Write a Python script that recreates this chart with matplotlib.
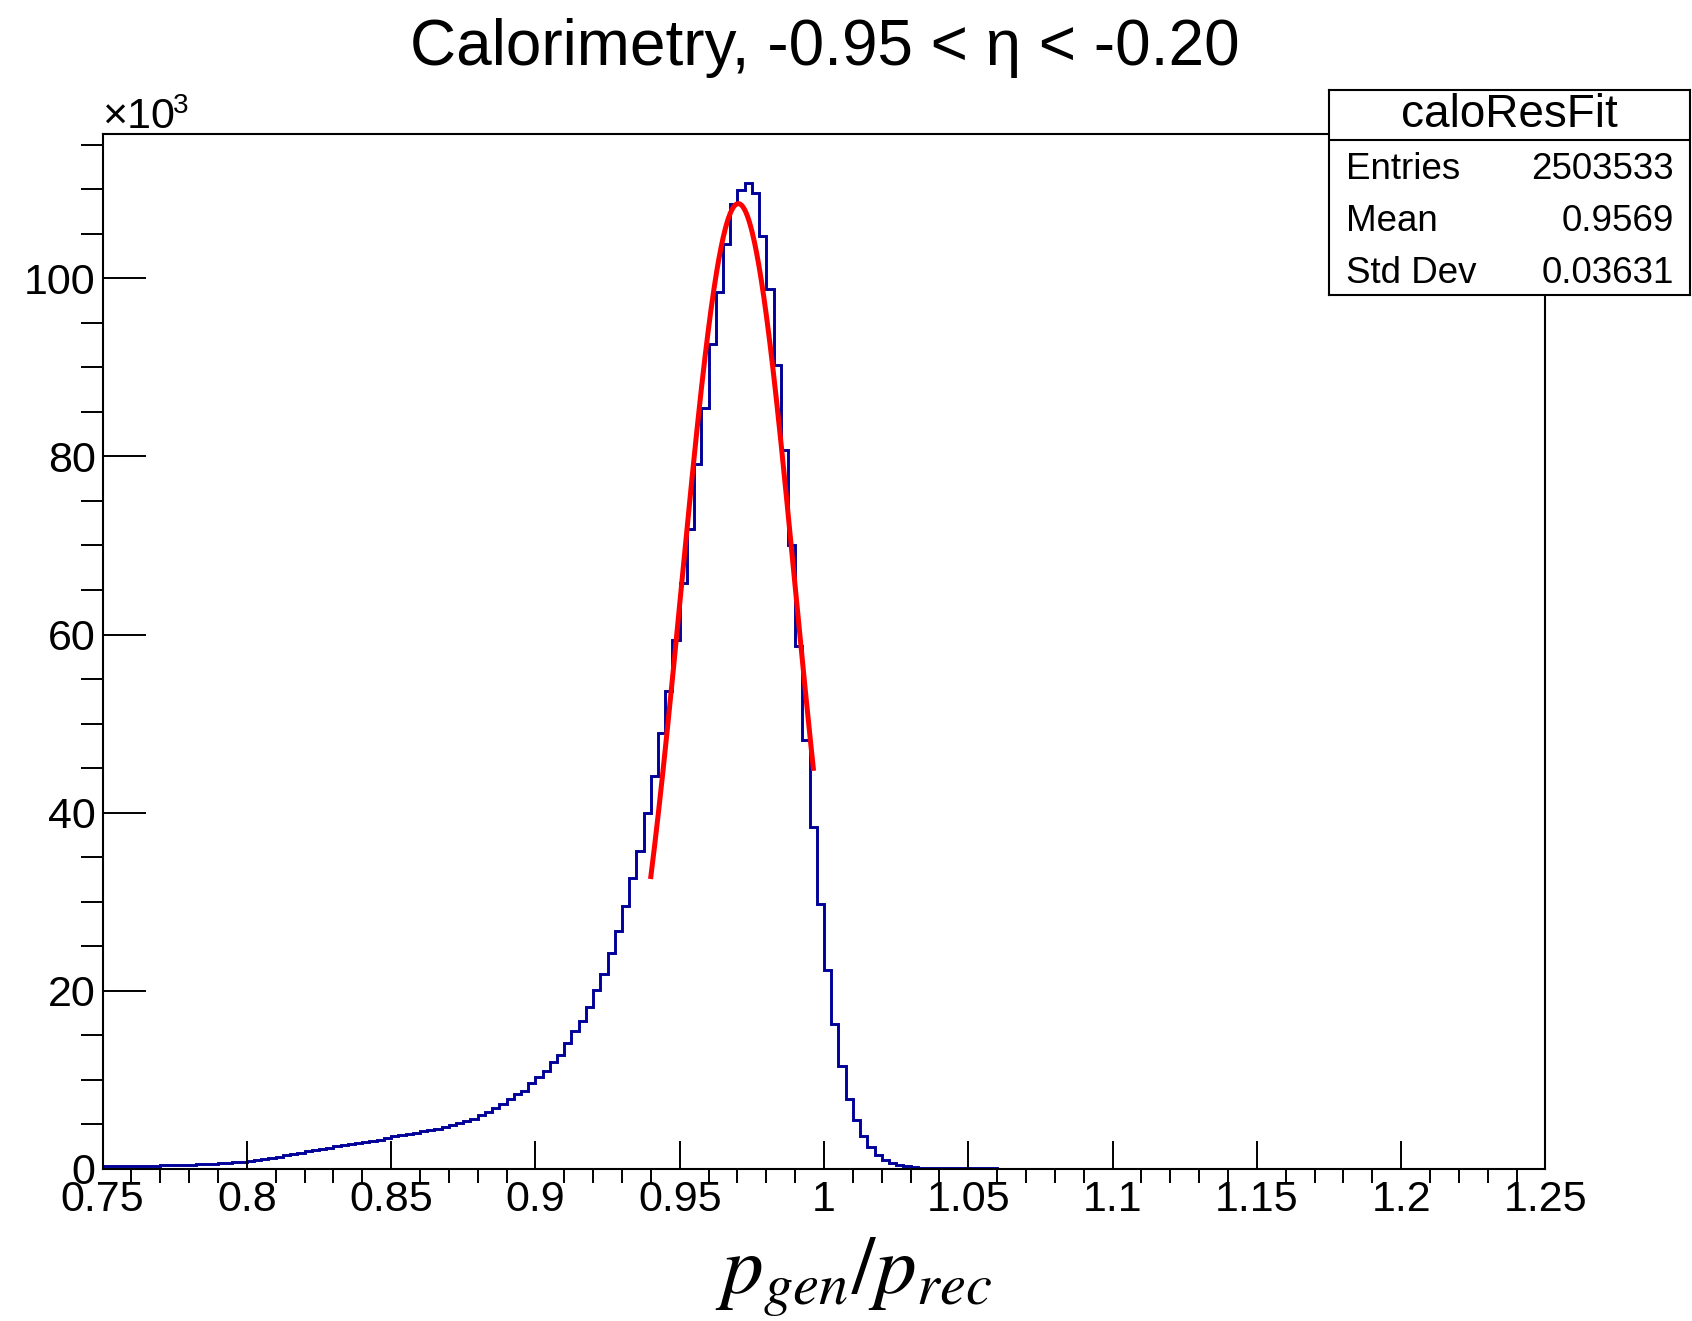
import matplotlib.pyplot as plt
import numpy as np
from matplotlib.ticker import MultipleLocator, FuncFormatter

plt.rcParams['font.family'] = ['Liberation Sans', 'DejaVu Sans']
plt.rcParams['mathtext.fontset'] = 'stix'

# histogram range, 200 bins of 0.0025
x_lo, x_hi = 0.75, 1.25

# bin contents in units of 10^3
counts_low = [0.25, 0.27, 0.28, 0.29, 0.30, 0.31, 0.32, 0.34, 0.36, 0.38,
              0.40, 0.43, 0.46, 0.50, 0.54, 0.58, 0.63, 0.68, 0.74, 0.80,
              0.88, 0.98, 1.10, 1.22, 1.36, 1.50, 1.65, 1.80, 1.95, 2.10,
              2.22, 2.35, 2.50, 2.62, 2.75, 2.88, 3.00, 3.12, 3.25, 3.40,
              3.70, 3.80, 3.95, 4.05, 4.20, 4.35, 4.45, 4.70, 4.90, 5.15,
              5.40, 5.60, 6.05, 6.40, 6.85, 7.25, 7.80, 8.40, 8.75, 9.60]
counts_rise = [10.3, 11.0, 12.0, 12.8, 14.1, 15.5, 16.6, 18.2, 20.1, 21.9,
               24.2, 26.7, 29.5, 32.7, 35.7, 40.0, 44.1, 48.9, 53.7, 59.4,
               65.8]
counts_peak = [71.9, 79.1, 85.4, 92.6, 98.5, 103.9, 108.4, 109.9, 110.75, 109.6,
               104.8, 98.8, 90.3, 80.7, 70.1]
counts_fall = [58.7, 48.2, 38.4, 29.7, 22.3, 16.2, 11.5, 7.8, 5.5, 3.7,
               2.4, 1.5, 1.0, 0.67, 0.42, 0.27, 0.18, 0.12, 0.08, 0.06]
counts_high = [0.050, 0.045, 0.040, 0.035, 0.030, 0.028, 0.025, 0.022, 0.020, 0.018,
               0.016, 0.014, 0.013, 0.012, 0.011, 0.010, 0.009, 0.009, 0.008, 0.008,
               0.007, 0.007, 0.006, 0.006, 0.006, 0.005, 0.005, 0.005, 0.005, 0.004,
               0.004, 0.004, 0.004, 0.004, 0.003, 0.003, 0.003, 0.003, 0.003, 0.003,
               0.003, 0.003, 0.002, 0.002, 0.002, 0.002, 0.002, 0.002, 0.002, 0.002,
               0.002, 0.002, 0.002, 0.002, 0.002, 0.001, 0.001, 0.001, 0.001, 0.001,
               0.001, 0.001, 0.001, 0.001, 0.001, 0.001, 0.001, 0.001, 0.001, 0.001,
               0.001, 0.001, 0.001, 0.001, 0.001, 0.001, 0.001, 0.001, 0.001, 0.001,
               0.001, 0.001, 0.001, 0.001]
counts = counts_low + counts_rise + counts_peak + counts_fall + counts_high

# gaussian fit (amplitude in 10^3)
fit_amp = 108.4
fit_mean = 0.9703
fit_sigma = 0.0196
fit_lo, fit_hi = 0.9400, 0.9963

stat_title = 'caloResFit'
stat_names = ['Entries', 'Mean', 'Std Dev']
stat_values = ['2503533', '0.9569', '0.03631']

fig = plt.figure(figsize=(16.92, 13.21), dpi=100)
ax = fig.add_axes([0.0606, 0.1153, 0.8528, 0.7834])

edges = np.linspace(x_lo, x_hi, len(counts) + 1)
ax.stairs(counts, edges, color='#000099', lw=2.1, baseline=0)

xf = np.linspace(fit_lo, fit_hi, 300)
ax.plot(xf, fit_amp * np.exp(-0.5 * ((xf - fit_mean) / fit_sigma) ** 2),
        color='#ff0000', lw=3.6)

ax.set_xlim(x_lo, x_hi)
ax.set_ylim(0, 116.24)
ax.xaxis.set_major_locator(MultipleLocator(0.05))
ax.xaxis.set_minor_locator(MultipleLocator(0.01))
ax.yaxis.set_major_locator(MultipleLocator(20))
ax.yaxis.set_minor_locator(MultipleLocator(5))
fmt = FuncFormatter(lambda v, p: '%g' % round(v, 4))
ax.xaxis.set_major_formatter(fmt)
ax.yaxis.set_major_formatter(fmt)
ax.tick_params(direction='in', top=False, right=False, labelsize=31, width=1.4)
ax.tick_params(axis='x', which='major', length=20, pad=8)
ax.tick_params(axis='x', which='minor', length=10, width=1.4)
ax.tick_params(axis='y', which='major', length=31, pad=5)
ax.tick_params(axis='y', which='minor', length=16, width=1.4)
for s in ax.spines.values():
    s.set_linewidth(1.5)

# exponent marker above the y axis
fig.text(0.0600, 1 - 128 / 1321, '×10', fontsize=31, ha='left', va='baseline')
fig.text(0.1022, 1 - 106 / 1321, '3', fontsize=20, ha='left', va='center')

fig.text(0.4876, 0.964, 'Calorimetry, -0.95 < η < -0.20', fontsize=46,
         ha='center', va='center')
fig.text(0.5045, 0.0330, r'$p_{gen}/p_{rec}$', fontsize=60,
         ha='center', va='center')

# stats box
bx = fig.add_axes([0.7857, 0.7770, 0.2131, 0.1552], zorder=5)
bx.set_xlim(0, 1)
bx.set_ylim(0, 1)
bx.set_xticks([])
bx.set_yticks([])
for s in bx.spines.values():
    s.set_linewidth(1.5)
bx.axhline(0.753, color='black', lw=1.5)
bx.text(0.5, 0.877, stat_title, fontsize=33, ha='center', va='center')
for i, (n, v) in enumerate(zip(stat_names, stat_values)):
    yy = 0.61 - i * 0.254
    bx.text(0.047, yy, n, fontsize=26.5, ha='left', va='center')
    bx.text(0.955, yy, v, fontsize=26.5, ha='right', va='center')

fig.savefig('out.png', dpi=100)
